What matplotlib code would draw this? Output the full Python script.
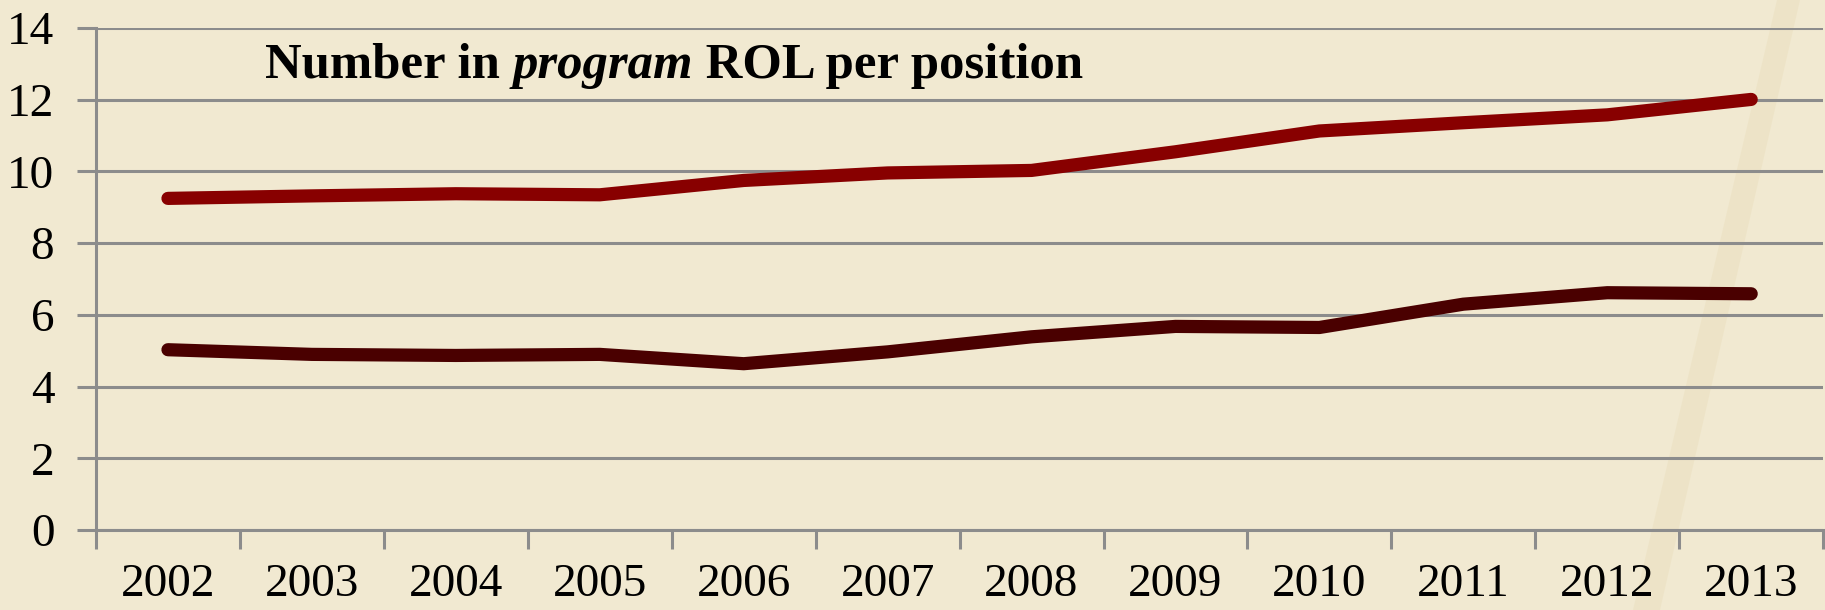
import numpy as np
import matplotlib
matplotlib.use('Agg')
import matplotlib.pyplot as plt
from matplotlib.patches import Polygon

years = ['2002', '2003', '2004', '2005', '2006', '2007',
         '2008', '2009', '2010', '2011', '2012', '2013']
upper = [9.25, 9.32, 9.38, 9.35, 9.75, 9.96, 10.03, 10.55, 11.13, 11.36, 11.58, 12.01]
lower = [5.03, 4.90, 4.87, 4.90, 4.64, 4.97, 5.39, 5.68, 5.65, 6.30, 6.62, 6.59]

paper = '#f1e9d1'
grid_col = '#8c8c8c'

fig = plt.figure(figsize=(18.25, 6.10), dpi=100, facecolor=paper)

ax = fig.add_axes([0.0526, 0.131, 0.9464, 0.823])
ax.set_facecolor('none')

# faint tan band across the paper, like the texture in the slide
band = Polygon([[1777 / 1825, 1.0], [1800 / 1825, 1.0], [1660 / 1825, 0.0], [1633 / 1825, 0.0]],
               closed=True, transform=fig.transFigure,
               facecolor='#e9dcb8', edgecolor='none', alpha=0.4, zorder=0)
ax.add_patch(band)
band.set_clip_on(False)

x = np.arange(len(years))
ax.plot(x, upper, color='#880000', lw=9.5, solid_capstyle='round', solid_joinstyle='round', zorder=3)
ax.plot(x, lower, color='#4a0000', lw=9.5, solid_capstyle='round', solid_joinstyle='round', zorder=3)

ax.set_xlim(-0.5, len(years) - 0.5)
ax.set_ylim(0, 14)
ax.set_yticks(range(0, 15, 2))
ax.yaxis.grid(True, color=grid_col, lw=2.2, zorder=1)
ax.set_axisbelow(True)

# category boundaries get the tick marks, labels sit in the middle
ax.set_xticks(np.arange(-0.5, len(years), 1.0))
ax.set_xticklabels([])
ax.set_xticks(x, minor=True)
ax.set_xticklabels(years, minor=True)
ax.tick_params(axis='x', which='major', length=14, width=2.2, color=grid_col, direction='out')
ax.tick_params(axis='x', which='minor', length=0, pad=24)
ax.tick_params(axis='y', length=14, width=2.2, color=grid_col, direction='out', pad=16)

for lab in ax.get_xticklabels(minor=True) + ax.get_yticklabels():
    lab.set_fontfamily('Liberation Serif')
    lab.set_fontsize(34)
    lab.set_color('black')

for side in ['top', 'right']:
    ax.spines[side].set_visible(False)
for side in ['left', 'bottom']:
    ax.spines[side].set_color(grid_col)
    ax.spines[side].set_linewidth(2.2)

# title with italic word in the middle
ty = 1 - 66 / 610
fs = 36.5
t1 = ax.text(265 / 1825, ty, 'Number in ', transform=fig.transFigure, fontsize=fs,
             fontweight='bold', fontfamily='Liberation Serif', va='center', ha='left')
fig.canvas.draw()
r = fig.canvas.get_renderer()
x1 = t1.get_window_extent(r).x1 / fig.bbox.width
t2 = ax.text(x1, ty, 'program', transform=fig.transFigure, fontsize=fs,
             fontweight='bold', fontstyle='italic', fontfamily='Liberation Serif', va='center', ha='left')
x2 = t2.get_window_extent(r).x1 / fig.bbox.width
ax.text(x2, ty, ' ROL per position', transform=fig.transFigure, fontsize=fs,
        fontweight='bold', fontfamily='Liberation Serif', va='center', ha='left')

fig.savefig('out.png', dpi=100, facecolor=paper)
